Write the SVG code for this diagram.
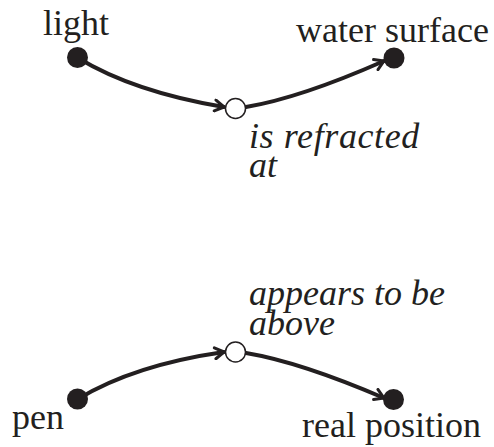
<svg xmlns="http://www.w3.org/2000/svg" width="494" height="447" viewBox="0 0 494 447">
<defs>
<style>
text{font-family:'Liberation Serif',serif;font-size:36px;fill:#231f20}
.rel{font-style:italic}
.dot{fill:#231f20}
.rnode{fill:#fff;stroke:#231f20;stroke-width:1.5}
.edge{fill:none;stroke:#231f20;stroke-width:4;stroke-linecap:round}
</style>
<marker id="arr" viewBox="0 0 14 14" refX="12" refY="7" markerWidth="14" markerHeight="14" markerUnits="userSpaceOnUse" orient="auto">
<path d="M3,1.5 L12,7 L3,12.5" fill="none" stroke="#231f20" stroke-width="3" stroke-linecap="round" stroke-linejoin="round"/>
</marker>
</defs>
<rect width="494" height="447" fill="#fff"/>
<g id="connectors">
<path class="edge" d="M78,58 Q134,92 224,107" marker-end="url(#arr)"/>
<path class="edge" d="M246,107 Q300,98 384,61" marker-end="url(#arr)"/>
<path class="edge" d="M78,399 Q134,365 224,352" marker-end="url(#arr)"/>
<path class="edge" d="M246,353 Q300,362 384,398" marker-end="url(#arr)"/>
</g>
<g id="light"><circle class="dot" cx="77.5" cy="57.5" r="10.5"/><text x="43" y="35">light</text></g>
<g id="water-surface"><circle class="dot" cx="394" cy="58" r="10.5"/><text x="296" y="42">water surface</text></g>
<g id="is-refracted-at"><circle class="rnode" cx="235.5" cy="108.5" r="10"/><text class="rel" x="249" y="148" letter-spacing="0.6">is refracted</text><text class="rel" x="249" y="177">at</text></g>
<g id="pen"><circle class="dot" cx="77.5" cy="399" r="10.5"/><text x="12" y="429">pen</text></g>
<g id="real-position"><circle class="dot" cx="393.5" cy="399.5" r="10.5"/><text x="302" y="437">real position</text></g>
<g id="appears-to-be-above"><circle class="rnode" cx="235.5" cy="352" r="10"/><text class="rel" x="249" y="305">appears to be</text><text class="rel" x="249" y="335">above</text></g>
</svg>
